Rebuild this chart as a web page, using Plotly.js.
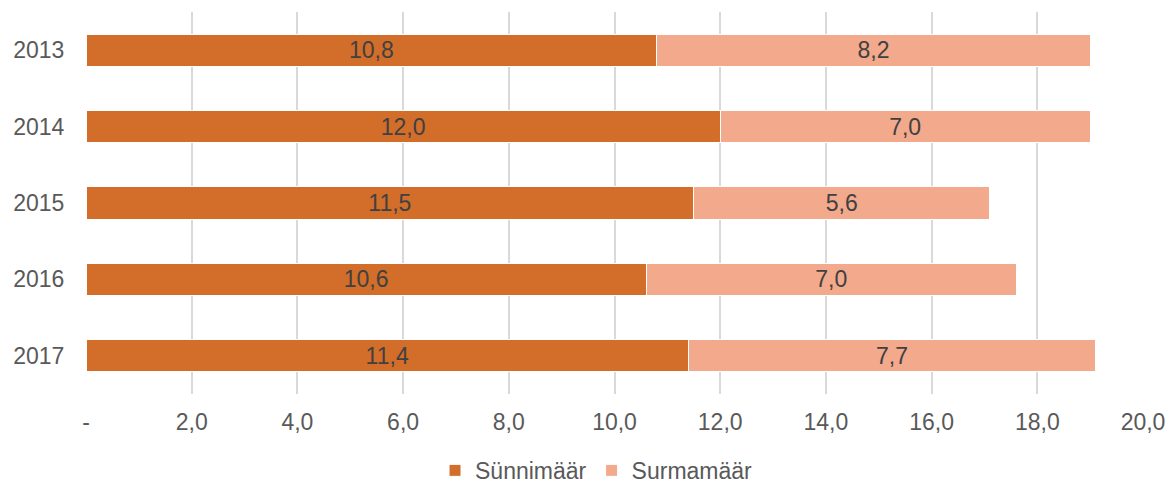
<!DOCTYPE html>
<html>
<head>
<meta charset="utf-8">
<script src="https://cdn.plot.ly/plotly-3.0.1.min.js"></script>
<style>html,body{margin:0;padding:0;background:#fff;}#chart{width:1170px;height:484px;}</style>
</head>
<body>
<div id="chart"></div>
<script>
const years = ["2013", "2014", "2015", "2016", "2017"];
const births = [10.8, 12.0, 11.5, 10.6, 11.4];
const deaths = [8.2, 7.0, 5.6, 7.0, 7.7];
const seriesNames = ["Sünnimäär", "Surmamäär"];
const tickValues = [0, 2, 4, 6, 8, 10, 12, 14, 16, 18, 20];
const tickLabels = ["-", "2,0", "4,0", "6,0", "8,0", "10,0", "12,0", "14,0", "16,0", "18,0", "20,0"];

const font = "Liberation Sans, Arial, sans-serif";
function trace(vals, name, color) {
  return {
    type: "bar", orientation: "h", y: years, x: vals, name: name,
    marker: {color: color, line: {color: "#ffffff", width: 1}},
    text: vals.map(v => v.toFixed(1).replace(".", ",")),
    textposition: "inside", insidetextanchor: "middle",
    textfont: {family: font, size: 23, color: "#404040"},
    constraintext: "none", hoverinfo: "none"
  };
}
const data = [
  trace(births, seriesNames[0], "#D26D2A"),
  trace(deaths, seriesNames[1], "#F2A98C")
];
const layout = {
  width: 1170, height: 484,
  margin: {l: 86, r: 27, t: 12, b: 90, autoexpand: false},
  barmode: "stack", bargap: 0.58,
  paper_bgcolor: "#fff", plot_bgcolor: "#fff",
  font: {family: font, size: 23, color: "#595959"},
  xaxis: {
    range: [0, 20], tickvals: tickValues, ticktext: tickLabels,
    showgrid: true, gridcolor: "#d9d9d9", gridwidth: 2, zeroline: false,
    showline: false, ticks: "outside", ticklen: 7, tickcolor: "rgba(0,0,0,0)",
    tickfont: {family: font, size: 23, color: "#595959"}, fixedrange: true
  },
  yaxis: {
    autorange: "reversed", showgrid: false, zeroline: false, showline: false,
    ticks: "outside", ticklen: 16, tickcolor: "rgba(0,0,0,0)",
    tickfont: {family: font, size: 23, color: "#595959"}, fixedrange: true
  },
  showlegend: true,
  legend: {orientation: "h", x: 0.483, xanchor: "center", y: -0.2, yanchor: "middle",
    font: {family: font, size: 23, color: "#595959"}, itemwidth: 30, traceorder: "normal"}
};
Plotly.newPlot("chart", data, layout, {displayModeBar: false, staticPlot: true});
</script>
</body>
</html>
